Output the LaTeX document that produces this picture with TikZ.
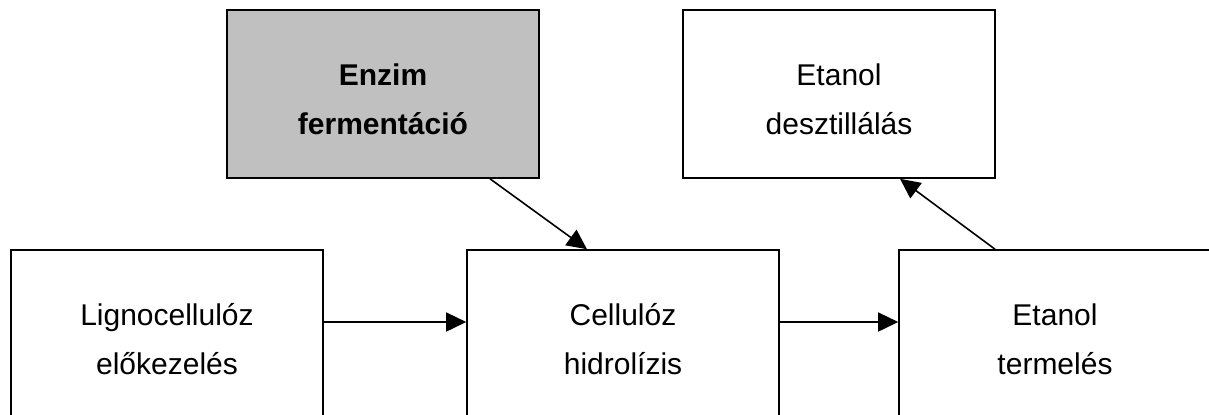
\documentclass[tikz,border=0pt]{standalone}
\usepackage{fontspec}
\setmainfont{Liberation Sans}
\usetikzlibrary{arrows.meta}
\definecolor{boxgray}{HTML}{C0C0C0}
\begin{document}
\begin{tikzpicture}[x=0.5pt,y=-0.5pt,
  stepbox/.style={draw=black,line width=0.8pt,minimum width=156pt,minimum height=84pt,inner sep=0pt},
  boxtext/.style={anchor=base,align=center,inner sep=0pt,font=\fontsize{15}{24.5}\selectfont},
  flow/.style={-{Triangle[length=10pt,width=9.5pt]},line width=0.8pt}]
\useasboundingbox (0,0) rectangle (1209,414);
\node[stepbox,fill=boxgray] (enzim) at (383,94) {};
\node[stepbox] (deszt) at (839,94) {};
\node[stepbox] (ligno) at (167,334) {};
\node[stepbox] (cellu) at (623,334) {};
\node[stepbox] (termel) at (1055,334) {};
\node[boxtext,font=\fontsize{15}{24.5}\selectfont\bfseries] (enzimtxt) at ([yshift=-62.75pt]enzim.north) {Enzim\\fermentáció};
\node[boxtext] (deszttxt) at ([yshift=-62.75pt]deszt.north) {Etanol\\desztillálás};
\node[boxtext] (lignotxt) at ([yshift=-62.75pt]ligno.north) {Lignocellulóz\\előkezelés};
\node[boxtext] (cellutxt) at ([yshift=-62.75pt]cellu.north) {Cellulóz\\hidrolízis};
\node[boxtext] (termeltxt) at ([yshift=-62.75pt]termel.north) {Etanol\\termelés};
\draw[flow] ([yshift=6pt]ligno.east) -- ([yshift=6pt]cellu.west);
\draw[flow] ([yshift=6pt]cellu.east) -- ([yshift=6pt]termel.west);
\draw[flow] ([xshift=53.5pt]enzim.south) -- ([xshift=-18pt]cellu.north);
\draw[flow] ([xshift=-30pt]termel.north) -- ([xshift=30.5pt]deszt.south);
\end{tikzpicture}
\end{document}
